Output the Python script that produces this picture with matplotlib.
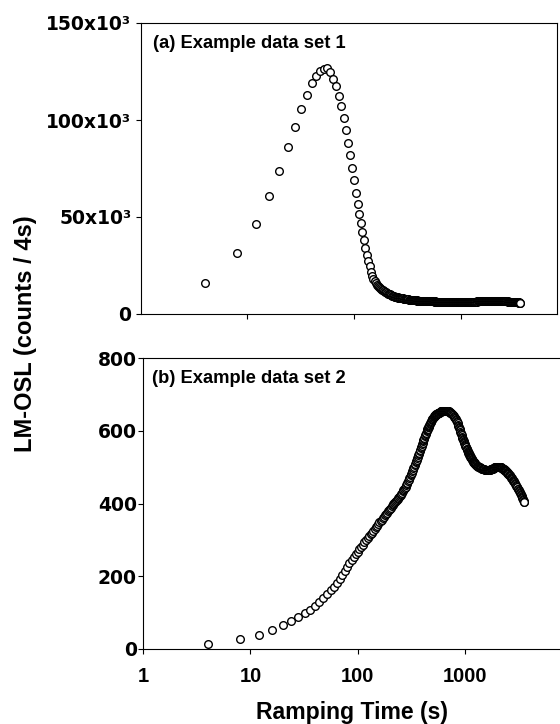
import matplotlib
matplotlib.use("Agg")
import matplotlib.pyplot as plt
from matplotlib.ticker import NullLocator, FixedLocator, FixedFormatter

# ---------------- data ----------------
# ramping time (s): 4 s channels (displayed subset)
times = [
    4, 8, 12, 16, 20, 24, 28, 32, 36, 40, 44, 48, 52, 56, 60, 64, 68, 72, 76, 80,
    84, 88, 92, 96, 100, 104, 108, 112, 116, 120, 124, 128, 132, 136, 140, 144, 148, 152, 156, 160,
    164, 168, 172, 176, 180, 184, 188, 192, 196, 200, 204, 208, 212, 216, 220, 224, 228, 232, 236, 240,
    244, 248, 252, 256, 260, 264, 268, 272, 276, 280, 284, 288, 292, 296, 300, 304, 308, 312, 316, 320,
    324, 328, 332, 336, 340, 344, 348, 352, 356, 360, 364, 368, 372, 376, 380, 384, 388, 392, 396, 400,
    404, 408, 412, 416, 420, 424, 428, 432, 436, 440, 444, 448, 452, 456, 460, 464, 468, 472, 476, 480,
    484, 488, 492, 496, 500, 504, 508, 512, 516, 520, 524, 528, 532, 536, 540, 544, 548, 552, 556, 560,
    564, 568, 572, 576, 580, 584, 588, 592, 596, 600, 604, 608, 612, 616, 620, 624, 628, 632, 636, 640,
    648, 656, 664, 672, 680, 688, 696, 704, 712, 720, 728, 736, 744, 752, 760, 768, 776, 784, 792, 800,
    808, 816, 824, 832, 840, 848, 856, 864, 872, 880, 888, 896, 904, 912, 920, 928, 936, 944, 952, 960,
    968, 976, 984, 992, 1000, 1008, 1016, 1024, 1032, 1040, 1048, 1056, 1064, 1072, 1080, 1088, 1096, 1104, 1112, 1120,
    1128, 1136, 1144, 1152, 1160, 1168, 1176, 1184, 1192, 1200, 1208, 1216, 1224, 1232, 1240, 1248, 1256, 1264, 1272, 1280,
    1296, 1312, 1328, 1344, 1360, 1376, 1392, 1408, 1424, 1440, 1456, 1472, 1488, 1504, 1520, 1536, 1552, 1568, 1584, 1600,
    1616, 1632, 1648, 1664, 1680, 1696, 1712, 1728, 1744, 1760, 1776, 1792, 1808, 1824, 1840, 1856, 1872, 1888, 1904, 1920,
    1936, 1952, 1968, 1984, 2000, 2016, 2032, 2048, 2064, 2080, 2096, 2112, 2128, 2144, 2160, 2176, 2192, 2208, 2224, 2240,
    2256, 2272, 2288, 2304, 2320, 2336, 2352, 2368, 2384, 2400, 2416, 2432, 2448, 2464, 2480, 2496, 2512, 2528, 2544, 2560,
    2592, 2624, 2656, 2688, 2720, 2752, 2784, 2816, 2848, 2880, 2912, 2944, 2976, 3008, 3040, 3072, 3104, 3136, 3168, 3200,
    3232, 3264, 3296, 3328, 3360, 3392, 3424, 3456, 3488, 3520, 3552, 3584,
    3600,
]

# (a) Example data set 1 - LM-OSL (counts / 4 s)
set1 = [
    15800, 31300, 46400, 60800, 73900, 85900, 96600, 105500, 112900, 118900, 122700, 125400, 126500, 126600, 124600, 121300, 117500, 112500, 107200, 101200,
    94800, 88300, 81800, 75300, 68900, 62600, 56900, 51500, 46800, 42200, 38100, 34100, 30600, 27400, 24500, 21900, 19700, 18100, 16800, 15800,
    15000, 14300, 13800, 13400, 13000, 12600, 12200, 11800, 11400, 11100, 10800, 10500, 10300, 10100, 9900, 9700, 9500, 9300, 9200, 9000,
    8900, 8800, 8700, 8600, 8500, 8400, 8350, 8300, 8200, 8100, 8050, 8000, 7950, 7900, 7800, 7750, 7700, 7650, 7600, 7500,
    7480, 7450, 7400, 7350, 7300, 7250, 7220, 7200, 7170, 7150, 7120, 7100, 7070, 7050, 7020, 7000, 6980, 6950, 6930, 6900,
    6900, 6880, 6870, 6850, 6850, 6840, 6820, 6800, 6800, 6790, 6770, 6750, 6750, 6740, 6720, 6700, 6700, 6700, 6690, 6680,
    6670, 6650, 6650, 6640, 6630, 6620, 6600, 6600, 6600, 6590, 6570, 6550, 6550, 6540, 6520, 6500, 6500, 6500, 6490, 6480,
    6460, 6450, 6450, 6440, 6420, 6400, 6400, 6400, 6390, 6380, 6380, 6370, 6360, 6350, 6350, 6340, 6330, 6320, 6310, 6300,
    6300, 6290, 6310, 6300, 6280, 6300, 6310, 6290, 6300, 6280, 6300, 6310, 6290, 6300, 6300, 6280, 6300, 6310, 6300, 6290,
    6300, 6300, 6280, 6300, 6310, 6300, 6290, 6300, 6300, 6310, 6290, 6300, 6310, 6300, 6300, 6320, 6300, 6310, 6300, 6320,
    6310, 6300, 6320, 6330, 6310, 6320, 6300, 6330, 6320, 6340, 6320, 6330, 6340, 6320, 6350, 6330, 6340, 6350, 6330, 6350,
    6340, 6350, 6360, 6340, 6360, 6350, 6370, 6360, 6350, 6370, 6380, 6360, 6370, 6380, 6370, 6390, 6380, 6400, 6380, 6400,
    6400, 6410, 6400, 6420, 6430, 6410, 6440, 6450, 6430, 6460, 6470, 6450, 6480, 6490, 6470, 6500, 6510, 6490, 6520, 6530,
    6520, 6550, 6560, 6540, 6580, 6590, 6570, 6600, 6620, 6600, 6630, 6640, 6620, 6650, 6660, 6640, 6670, 6680, 6660, 6690,
    6700, 6680, 6710, 6700, 6720, 6700, 6730, 6710, 6720, 6700, 6730, 6710, 6700, 6720, 6700, 6690, 6710, 6690, 6680, 6700,
    6680, 6670, 6690, 6660, 6650, 6670, 6640, 6630, 6650, 6620, 6610, 6630, 6600, 6590, 6580, 6600, 6570, 6560, 6540, 6550,
    6530, 6510, 6500, 6480, 6460, 6450, 6430, 6410, 6400, 6380, 6360, 6350, 6330, 6310, 6300, 6280, 6260, 6240, 6220, 6200,
    6180, 6160, 6140, 6110, 6080, 6050, 6020, 5990, 5950, 5910, 5870, 5830,
    5500,
]

# (b) Example data set 2 - LM-OSL (counts / 4 s)
set2 = [
    13, 27, 39, 53, 65, 77, 88, 98, 108, 119, 129, 140, 150, 161, 171, 182, 192, 204, 215, 226,
    236, 245, 253, 261, 268, 275, 281, 287, 293, 299, 305, 310, 315, 320, 325, 330, 335, 339, 344, 348,
    352, 356, 360, 364, 368, 372, 375, 379, 383, 386, 389, 392, 395, 398, 401, 404, 407, 410, 412, 415,
    418, 421, 424, 427, 430, 433, 436, 440, 443, 446, 450, 453, 457, 461, 465, 469, 473, 477, 481, 485,
    489, 493, 497, 501, 505, 509, 513, 517, 520, 524, 528, 532, 536, 540, 544, 548, 552, 556, 559, 563,
    567, 571, 574, 578, 581, 585, 588, 592, 595, 598, 601, 604, 606, 609, 611, 614, 616, 619, 621, 623,
    625, 627, 629, 631, 632, 634, 635, 637, 638, 640, 641, 642, 643, 644, 645, 646, 646, 647, 647, 648,
    648, 649, 649, 650, 650, 651, 651, 652, 652, 653, 653, 654, 654, 654, 654, 655, 655, 655, 655, 655,
    655, 655, 655, 655, 655, 654, 654, 653, 653, 652, 651, 650, 649, 648, 647, 645, 644, 642, 640, 638,
    636, 634, 632, 629, 626, 623, 620, 617, 614, 611, 608, 604, 601, 597, 594, 590, 587, 584, 581, 578,
    575, 572, 569, 566, 564, 561, 559, 556, 554, 551, 549, 546, 544, 542, 540, 538, 536, 534, 532, 530,
    529, 527, 526, 524, 523, 521, 520, 518, 517, 515, 514, 513, 512, 511, 510, 509, 508, 507, 506, 505,
    504, 503, 502, 501, 500, 499, 498, 497, 497, 496, 496, 495, 495, 494, 494, 493, 493, 492, 492, 492,
    492, 492, 492, 492, 492, 492, 493, 493, 494, 494, 495, 495, 496, 496, 497, 497, 498, 498, 499, 499,
    500, 500, 500, 500, 501, 501, 501, 501, 501, 501, 501, 500, 500, 500, 499, 499, 498, 498, 497, 497,
    496, 496, 495, 495, 494, 493, 492, 492, 491, 490, 489, 489, 488, 487, 486, 485, 484, 483, 482, 481,
    479, 477, 475, 473, 471, 469, 467, 465, 463, 461, 459, 456, 454, 451, 449, 446, 444, 441, 439, 436,
    434, 431, 429, 426, 423, 420, 418, 415, 412, 409, 407, 404,
    403,
]

panel_titles = ["(a) Example data set 1", "(b) Example data set 2"]
x_ticks = [1, 10, 100, 1000]
x_tick_labels = ["1", "10", "100", "1000"]
y1_ticks = [0, 50000, 100000, 150000]
y1_tick_labels = ["0", "50x10\u00b3", "100x10\u00b3", "150x10\u00b3"]
y2_ticks = [0, 200, 400, 600, 800]
y2_tick_labels = ["0", "200", "400", "600", "800"]

# ---------------- figure ----------------
W, H = 560, 724
fig = plt.figure(figsize=(W / 100, H / 100), dpi=100)

FONT = "Liberation Sans"
YFONT = "DejaVu Sans"


def px_axes(left, top, right, bottom):
    return fig.add_axes([left / W, 1 - bottom / H, (right - left) / W, (bottom - top) / H])


axa = px_axes(140.7, 23, 557, 314)
axb = px_axes(143.3, 358, 561.5, 649)

marker_kw = dict(ls="none", marker="o", ms=5.5, mfc="white", mec="black", mew=1.0)

for ax, t, v in ((axa, times, set1), (axb, times, set2)):
    ax.plot(t, v, **marker_kw)
    ax.set_xscale("log")
    ax.set_xlim(1, 8000)
    ax.xaxis.set_minor_locator(NullLocator())
    for sp in ax.spines.values():
        sp.set_linewidth(0.8)
    ax.tick_params(axis="both", which="major", direction="out", length=3.8, width=0.8)

# panel a
axa.set_ylim(0, 150000)
axa.xaxis.set_major_locator(FixedLocator([10, 100, 1000]))
axa.xaxis.set_major_formatter(FixedFormatter(["", "", ""]))
axa.yaxis.set_major_locator(FixedLocator(y1_ticks))
axa.yaxis.set_major_formatter(FixedFormatter(y1_tick_labels))
axa.tick_params(axis="y", pad=3)

# panel b
axb.set_ylim(0, 800)
axb.xaxis.set_major_locator(FixedLocator(x_ticks))
axb.xaxis.set_major_formatter(FixedFormatter(x_tick_labels))
axb.yaxis.set_major_locator(FixedLocator(y2_ticks))
axb.yaxis.set_major_formatter(FixedFormatter(y2_tick_labels))
axb.tick_params(axis="y", pad=0.8)
axb.tick_params(axis="x", pad=9.5)

for ax in (axa, axb):
    for lab in ax.get_yticklabels():
        lab.set_fontfamily(YFONT)
        lab.set_fontweight("bold")
        lab.set_fontsize(13.5)
    for lab in ax.get_xticklabels():
        lab.set_fontfamily(FONT)
        lab.set_fontweight("bold")
        lab.set_fontsize(14.5)

axa.text(0.029, 0.913, panel_titles[0], transform=axa.transAxes, ha="left", va="baseline",
         fontsize=13.2, fontweight="bold", family=FONT)
axb.text(0.020, 0.915, panel_titles[1], transform=axb.transAxes, ha="left", va="baseline",
         fontsize=13.2, fontweight="bold", family=FONT)

fig.text(25.5 / W, 1 - 334 / H, "LM-OSL (counts / 4s)", rotation=90, ha="center", va="center",
         fontsize=17, fontweight="bold", family=FONT)
fig.text(352 / W, 1 - 712 / H, "Ramping Time (s)", ha="center", va="center",
         fontsize=16.6, fontweight="bold", family=FONT)

fig.savefig("out.png", dpi=100, facecolor="white")
